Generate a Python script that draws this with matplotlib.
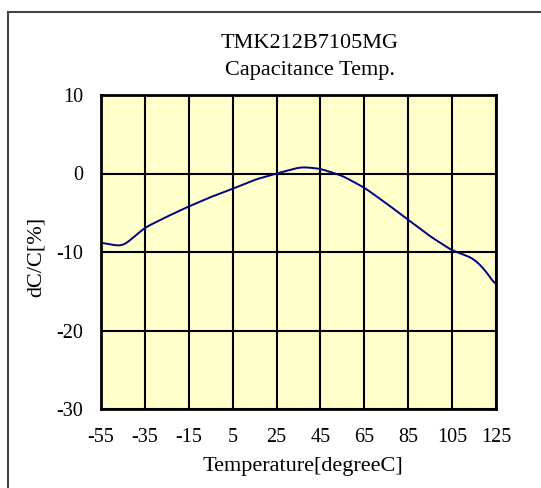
import numpy as np
import matplotlib.pyplot as plt
from matplotlib.patches import Rectangle

# curve (temperature in degC, dC/C in %)
temp = [-55, -50, -45, -40, -35, -25, -15, -5, 5, 15, 25, 35, 38, 45, 55, 65, 75, 85, 95, 105, 110, 115, 120, 125]
dcc = [-8.8, -9.1, -9.2, -8.1, -6.9, -5.5, -4.2, -3.0, -1.95, -0.8, 0.0, 0.75, 0.8, 0.6, -0.3, -1.8, -3.8, -5.9, -8.0, -9.8, -10.3, -10.9, -12.3, -14.3]
xticks = [-55, -35, -15, 5, 25, 45, 65, 85, 105, 125]
yticks = [-30, -20, -10, 0, 10]

W, H = 541, 488
plt.rcParams['font.family'] = 'Liberation Serif'
plt.rcParams['axes.unicode_minus'] = False
fig = plt.figure(figsize=(W / 100, H / 100), dpi=100)

# grey frame around the chart, running off the right and bottom edges
fig.patches.append(Rectangle((8 / W, 0 - 0.05), 1.1, (H - 12) / H + 0.05, transform=fig.transFigure,
                             fill=False, edgecolor='#444444', linewidth=1.5))

ax = fig.add_axes([101 / W, 1 - 409 / H, 395 / W, 314 / H])
ax.set_facecolor('#FFFFCC')

# smooth the read points a little
xs = np.linspace(-55, 125, 400)
ys = np.interp(xs, temp, dcc)
k = 5
ys = np.convolve(np.pad(ys, k, mode='edge'), np.ones(2 * k + 1) / (2 * k + 1), mode='same')[k:-k]
ax.plot(xs, ys, color='#000080', linewidth=1.4)

ax.set_xlim(-55, 125)
ax.set_ylim(-30, 10)
ax.set_xticks(xticks)
ax.set_yticks(yticks)
ax.grid(True, color='black', linewidth=1.5)
ax.set_axisbelow(True)
for s in ax.spines.values():
    s.set_linewidth(2)
ax.tick_params(axis='x', length=0, labelsize=14.5, pad=14)
ax.tick_params(axis='y', length=0, labelsize=14.5, pad=13)

fig.text(310 / W, 1 - 43 / H, 'TMK212B7105MG', ha='center', va='center', fontsize=16)
fig.text(310 / W, 1 - 70 / H, 'Capacitance Temp.', ha='center', va='center', fontsize=16)
fig.text(303 / W, 1 - 467 / H, 'Temperature[degreeC]', ha='center', va='center', fontsize=16)
fig.text(36 / W, 1 - 257 / H, 'dC/C[%]', ha='center', va='center', fontsize=16, rotation=90)

fig.savefig('out.png', dpi=100)
